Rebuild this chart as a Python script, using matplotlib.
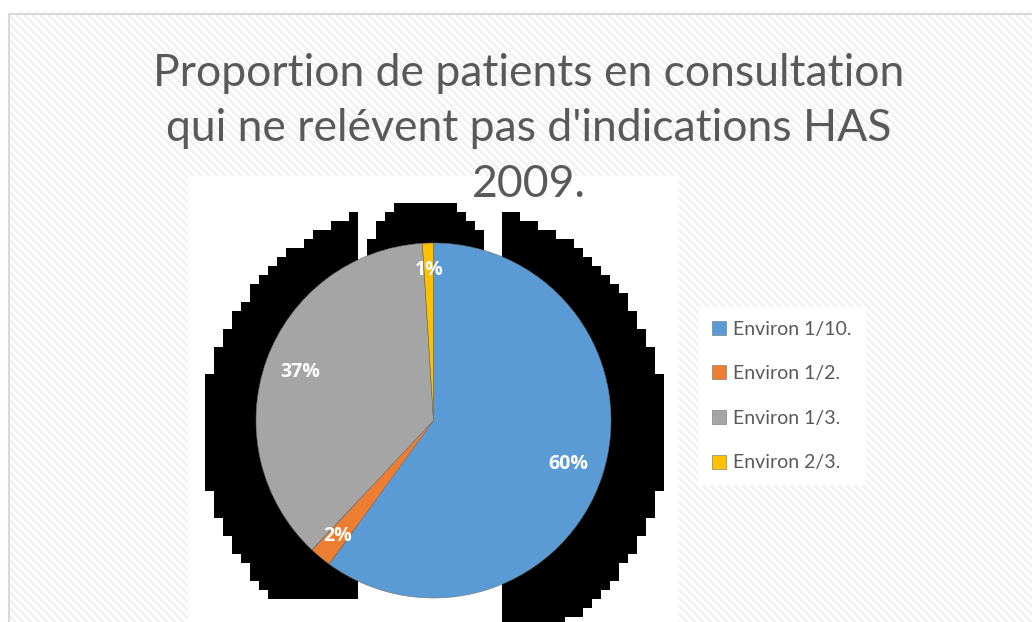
import numpy as np
import matplotlib
matplotlib.use("Agg")
import matplotlib.pyplot as plt
from matplotlib.patches import Rectangle

plt.rcParams['font.family'] = ['Lato', 'DejaVu Sans']

title = "Proportion de patients en consultation\nqui ne relévent pas d'indications HAS\n2009."
labels = ['Environ 1/10.', 'Environ 1/2.', 'Environ 1/3.', 'Environ 2/3.']
values = [60, 2, 37, 1]
colors = ['#5B9BD5', '#ED7D31', '#A5A5A5', '#FFC000']

W, H = 1032, 622
fig = plt.figure(figsize=(W / 100, H / 100), dpi=100)

# background layer in pixel coordinates
bg = fig.add_axes([0, 0, 1, 1])
bg.set_xlim(0, W)
bg.set_ylim(H, 0)
bg.axis('off')

yy, xx = np.mgrid[0:H, 0:W]
img = np.ones((H, W, 3))
img[((xx - yy) % 8) < 4] = 0.95
img[(xx < 9) | (yy < 14)] = 1.0
bg.imshow(img, extent=(0, W, H, 0), interpolation='nearest', aspect='auto', zorder=0)
bg.plot([9, 9, W], [H, 14, 14], color='#d9d9d9', lw=1.5, zorder=1)

# plot area
bg.add_patch(Rectangle((188, 176), 491, 446, fc='white', ec='none', zorder=1))

# blocky black shadow behind the pie
lx = (xx - 187) // 9 * 9 + 187
ly = (yy - 176) // 9 * 9 + 176
bx = lx + 4.5
by = ly + 4.5
big = ((bx - 435) ** 2 + (by - 432) ** 2) <= 232 ** 2
left = big & (lx >= 205) & (lx < 350) & (by < 596)
right = big & (lx >= 502) & (lx < 661)
cap_top = 260 - np.sqrt(np.clip(60 ** 2 - (bx - 426) ** 2, 0, None))
middle = (lx >= 367) & (lx < 484) & (by >= cap_top) & (by < 420)
shadow = (left | right | middle) & (xx >= 188) & (xx < 679) & (yy >= 176)
rgba = np.zeros((H, W, 4))
rgba[shadow, 3] = 1.0
bg.imshow(rgba, extent=(0, W, H, 0), interpolation='nearest', aspect='auto', zorder=2)

fig.text(529 / W, 1 - 197 / H, title, ha='center', va='baseline', fontsize=32,
         color='#595959', linespacing=1.44)

# pie
R = 177.5
pax = fig.add_axes([(433.5 - R) / W, (H - 598) / H, 2 * R / W, 2 * R / H])
wedges, texts, autotexts = pax.pie(values, colors=colors, startangle=90, counterclock=False,
                                   autopct='%1.0f%%', pctdistance=0.8,
                                   wedgeprops=dict(edgecolor='#6d6d6d', linewidth=0.4))
for t, v in zip(autotexts, values):
    t.set_color('white')
    t.set_fontweight('bold')
    t.set_fontsize(14)
    t.set_family(['Open Sans', 'DejaVu Sans'])
    if v < 5:
        x, y = t.get_position()
        t.set_position((x * 1.06, y * 1.06))
pax.set_xlim(-1, 1)
pax.set_ylim(-1, 1)
pax.axis('off')

leg = fig.legend(wedges, labels, loc='upper left', bbox_to_anchor=(698 / W, 1 - 307 / H),
                 borderaxespad=0, fontsize=14, frameon=True, fancybox=False,
                 facecolor='white', edgecolor='none', framealpha=1,
                 handlelength=0.72, handleheight=0.72, handletextpad=0.4,
                 labelspacing=1.42, borderpad=0.7)
for t in leg.get_texts():
    t.set_color('#595959')

fig.savefig('out.png', dpi=100)
